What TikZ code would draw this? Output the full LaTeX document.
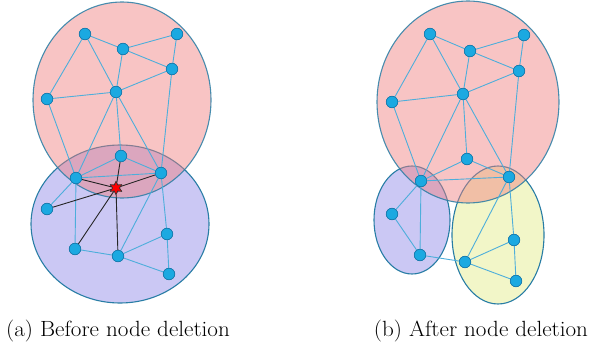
\documentclass[tikz,border=0pt]{standalone}
\usepackage{fontspec}
\usetikzlibrary{shapes.geometric}
\definecolor{pinkf}{RGB}{240,127,127}
\definecolor{purpf}{RGB}{203,200,244}
\definecolor{yelf}{RGB}{242,246,200}
\definecolor{rim}{RGB}{40,125,165}
\definecolor{vfill}{RGB}{27,169,225}
\definecolor{vrim}{RGB}{25,120,170}
\definecolor{ecol}{RGB}{77,174,219}
\begin{document}
\begin{tikzpicture}[x=1pt,y=-1pt,
  vtx/.style={circle,fill=vfill,draw=vrim,line width=0.6pt,minimum size=11.5pt,inner sep=0pt},
  edg/.style={draw=ecol,line width=0.9pt},
  blk/.style={draw=black!85,line width=0.9pt},
  cluster/.style={draw=rim,line width=1.1pt},
  pinkcl/.style={fill=pinkf,fill opacity=0.46,draw=rim,draw opacity=0.85,line width=1.1pt},
  deleted/.style={star,star points=6,star point ratio=1.9,minimum size=13pt,inner sep=0pt,fill=red,draw=black!80,line width=0.6pt},
  captxt/.style={font=\fontsize{22}{26}\selectfont,inner sep=0pt,anchor=base}]
\useasboundingbox (0,0) rectangle (602,350);
% ---------- left panel ----------
\path[cluster,fill=purpf] (120,224) ellipse [x radius=89pt, y radius=79pt];
\path[pinkcl] (122,100) ellipse [x radius=89pt, y radius=98pt];
\node[vtx] (a1) at (85,34) {};
\node[vtx] (a2) at (123,49) {};
\node[vtx] (a3) at (177,34) {};
\node[vtx] (a4) at (172,69) {};
\node[vtx] (a5) at (116,92) {};
\node[vtx] (a6) at (47,99) {};
\node[vtx] (a7) at (121,156) {};
\node[vtx] (a8) at (76,178) {};
\node[vtx] (a9) at (161,173) {};
\node[vtx] (a10) at (47,209) {};
\node[vtx] (a11) at (75,249) {};
\node[vtx] (a12) at (118,256) {};
\node[vtx] (a13) at (167,234) {};
\node[vtx] (a14) at (169,274) {};
\node[deleted] (s) at (116,188) {};
\path[edg] (a1)--(a2) (a2)--(a3) (a1)--(a6) (a1)--(a5) (a2)--(a5) (a2)--(a4)
  (a3)--(a4) (a5)--(a4) (a5)--(a6) (a6)--(a8) (a5)--(a8) (a5)--(a7) (a5)--(a9)
  (a4)--(a9) (a7)--(a8) (a7)--(a9) (a8)--(a9) (a8)--(a10) (a8)--(a11)
  (a11)--(a12) (a12)--(a13) (a12)--(a14) (a13)--(a14) (a9)--(a12) (a9)--(a13);
\path[blk] (s)--(a8) (s)--(a9) (s)--(a7) (s)--(a10) (s)--(a11) (s)--(a12);
\foreach \p in {{85,34},{123,49},{177,34},{172,69},{116,92},{47,99},{121,156},{76,178},{161,173},{47,209},{75,249},{118,256},{167,234},{169,274}}
  \node[vtx] at (\p) {};
\node[deleted] at (116,188) {};
% ---------- right panel ----------
\path[cluster,fill=purpf] (412,220) ellipse [x radius=38pt, y radius=54pt];
\path[cluster,fill=yelf] (498,235) ellipse [x radius=46pt, y radius=69pt];
\path[pinkcl] (468,102) ellipse [x radius=91pt, y radius=101pt];
\node[vtx] (b1) at (430,34) {};
\node[vtx] (b2) at (470,51) {};
\node[vtx] (b3) at (524,35) {};
\node[vtx] (b4) at (519,71) {};
\node[vtx] (b5) at (463,94) {};
\node[vtx] (b6) at (392,102) {};
\node[vtx] (b7) at (467,159) {};
\node[vtx] (b8) at (421,181) {};
\node[vtx] (b9) at (509,177) {};
\node[vtx] (b10) at (392,214) {};
\node[vtx] (b11) at (420,255) {};
\node[vtx] (b12) at (465,262) {};
\node[vtx] (b13) at (514,240) {};
\node[vtx] (b14) at (516,281) {};
\path[edg] (b1)--(b2) (b2)--(b3) (b1)--(b6) (b1)--(b5) (b2)--(b5) (b2)--(b4)
  (b3)--(b4) (b4)--(b5) (b5)--(b6) (b6)--(b8) (b5)--(b8) (b5)--(b7) (b5)--(b9)
  (b4)--(b9) (b7)--(b8) (b7)--(b9) (b8)--(b9) (b8)--(b10) (b8)--(b11)
  (b10)--(b11) (b11)--(b12) (b9)--(b12) (b9)--(b13) (b12)--(b13) (b12)--(b14) (b13)--(b14);
\foreach \p in {{430,34},{470,51},{524,35},{519,71},{463,94},{392,102},{467,159},{421,181},{509,177},{392,214},{420,255},{465,262},{514,240},{516,281}}
  \node[vtx] at (\p) {};
% ---------- captions ----------
\node[captxt] (capa) at (118,336) {\scalebox{1.05}[1]{(a) Before node deletion}};
\node[captxt] (capb) at (481,336) {\scalebox{1.05}[1]{(b) After node deletion}};
\end{tikzpicture}
\end{document}
